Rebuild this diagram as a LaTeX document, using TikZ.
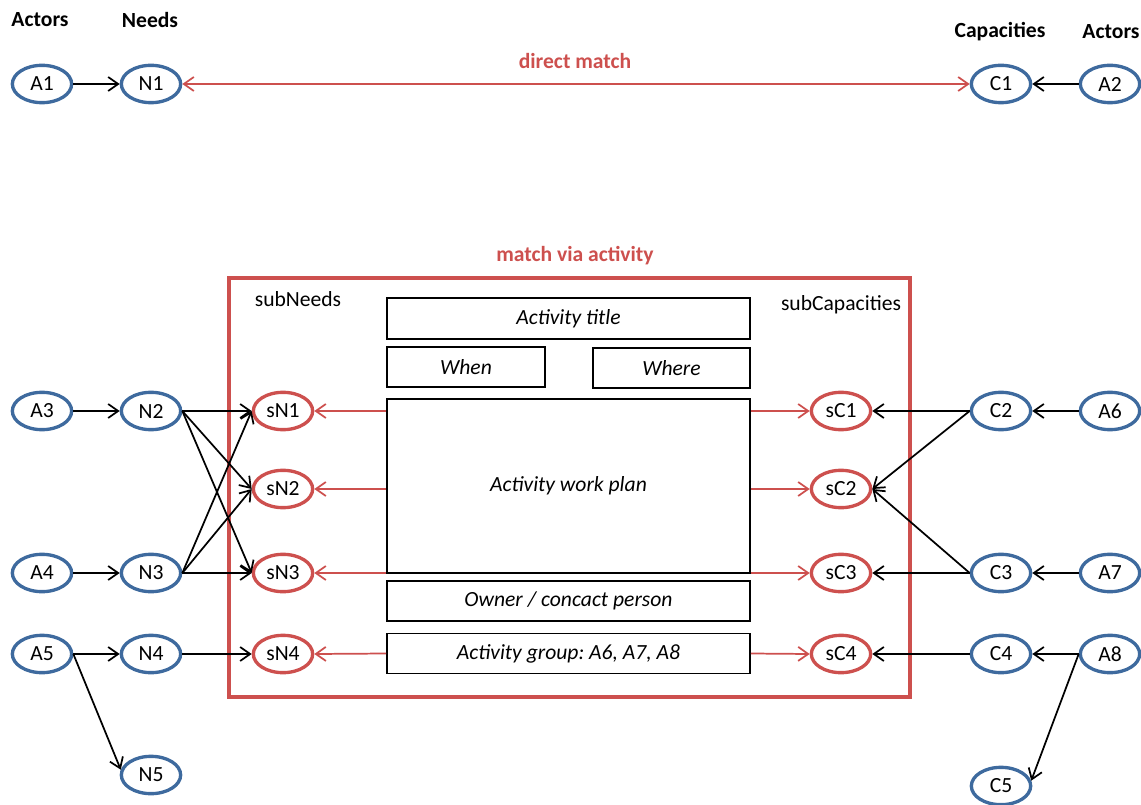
\documentclass[tikz,border=0pt]{standalone}
\usepackage{fontspec}
\setmainfont{Carlito}
\frenchspacing
\usetikzlibrary{arrows.meta,shapes.geometric}
\definecolor{eblue}{RGB}{62,106,158}
\definecolor{ered}{RGB}{205,80,78}
\begin{document}
\begin{tikzpicture}[x=0.75pt,y=-0.75pt,
  font=\fontsize{16.2}{19}\selectfont,
  >={Straight Barb[length=7.5pt,width=10.5pt,line width=1.3pt]},
  bel/.style={ellipse,draw=eblue,line width=2.5pt,minimum width=44.5pt,minimum height=28pt,inner sep=0pt},
  rel/.style={ellipse,draw=ered,line width=2.5pt,minimum width=44.5pt,minimum height=28pt,inner sep=0pt},
  abox/.style={draw=black,line width=1.4pt,font=\fontsize{16.2}{19}\selectfont\itshape,inner sep=0pt},
  hdr/.style={font=\fontsize{16.2}{19}\selectfont\bfseries},
  rhdr/.style={font=\fontsize{16.2}{19}\selectfont\bfseries,text=ered},
  blk/.style={->,draw=black,line width=1.3pt},
  red/.style={->,draw=ered,line width=1.3pt}]
\useasboundingbox (0,0) rectangle (1141,805);
% headers
\node[hdr] (hA1) at (40,20) {Actors};
\node[hdr] (hN1) at (150,20) {Needs};
\node[hdr] (hC1) at (1000,32) {Capacities};
\node[hdr] (hA2) at (1111,32) {Actors};
\node[rhdr] (dm) at (575,61) {direct match};
\node[rhdr] (mva) at (575,256) {match via activity};
% top row
\node[bel] (A1) at (42,84) {A1};
\node[bel] (N1) at (151,84) {N1};
\node[bel] (C1) at (1001,84) {C1};
\node[bel] (A2) at (1110,84) {A2};
\draw[blk] (A1) -- (N1);
\draw[blk] (A2) -- (C1);
\draw[<->,draw=ered,line width=1.3pt] (N1) -- (C1);
% big red box
\node[draw=ered,line width=2.6pt,minimum width=510.75pt,minimum height=314.25pt,inner sep=0pt] (big) at (569.5,487.5) {};
\node (subN) at (298,299) {subNeeds};
\node (subC) at (841,305) {subCapacities};
% activity boxes
\node[abox,minimum width=272.25pt,minimum height=30.75pt] (title) at (568.5,318.5) {Activity title};
\node[abox,minimum width=118.5pt,minimum height=30pt] (when) at (466,367) {When};
\node[abox,minimum width=117.75pt,minimum height=30pt] (where) at (671.5,368) {Where};
\node[abox,minimum width=272.25pt,minimum height=130.5pt] (plan) at (568.5,486) {Activity work plan};
\node[abox,minimum width=272.25pt,minimum height=30pt] (owner) at (568.5,601) {Owner / concact person};
\node[abox,minimum width=272.25pt,minimum height=30pt] (group) at (568.5,653.5) {Activity group: A6, A7, A8};
% left side nodes
\node[bel] (A3) at (42,411) {A3};
\node[bel] (N2) at (151,411) {N2};
\node[bel] (A4) at (42,573) {A4};
\node[bel] (N3) at (151,573) {N3};
\node[bel] (A5) at (42,654) {A5};
\node[bel] (N4) at (151,654) {N4};
\node[bel] (N5) at (151,775) {N5};
\node[rel] (sN1) at (283,411) {sN1};
\node[rel] (sN2) at (283,489) {sN2};
\node[rel] (sN3) at (283,573) {sN3};
\node[rel] (sN4) at (283,654) {sN4};
% right side nodes
\node[rel] (sC1) at (841,411) {sC1};
\node[rel] (sC2) at (841,489) {sC2};
\node[rel] (sC3) at (841,573) {sC3};
\node[rel] (sC4) at (841,654) {sC4};
\node[bel] (C2) at (1001,411) {C2};
\node[bel] (A6) at (1110,411) {A6};
\node[bel] (C3) at (1001,573) {C3};
\node[bel] (A7) at (1110,573) {A7};
\node[bel] (C4) at (1001,654) {C4};
\node[bel] (A8) at (1110,654) {A8};
\node[bel] (C5) at (1001,786) {C5};
% left black arrows
\draw[blk] (A3) -- (N2);
\draw[blk] (A4) -- (N3);
\draw[blk] (A5) -- (N4);
\draw[blk] (A5.east) -- (N5.170);
\draw[blk] (N4) -- (sN4);
\foreach \s in {sN1,sN2,sN3} {
  \draw[blk] (N2.east) -- (\s.west);
  \draw[blk] (N3.east) -- (\s.west);
}
% right black arrows
\draw[blk] (A6) -- (C2);
\draw[blk] (A7) -- (C3);
\draw[blk] (A8) -- (C4);
\draw[blk] (A8.west) -- (C5.10);
\draw[blk] (C4) -- (sC4);
\draw[blk] (C2.west) -- (sC1.east);
\draw[blk] (C2.west) -- (sC2.east);
\draw[blk] (C3.west) -- (sC2.east);
\draw[blk] (C3.west) -- (sC3.east);
% red arrows from activity
\foreach \s in {sN1,sN2,sN3} \draw[red] (plan.west |- \s.east) -- (\s.east);
\foreach \s in {sC1,sC2,sC3} \draw[red] (plan.east |- \s.west) -- (\s.west);
\draw[red] (group.west) -- (sN4.east);
\draw[red] (group.east) -- (sC4.west);
\end{tikzpicture}
\end{document}
